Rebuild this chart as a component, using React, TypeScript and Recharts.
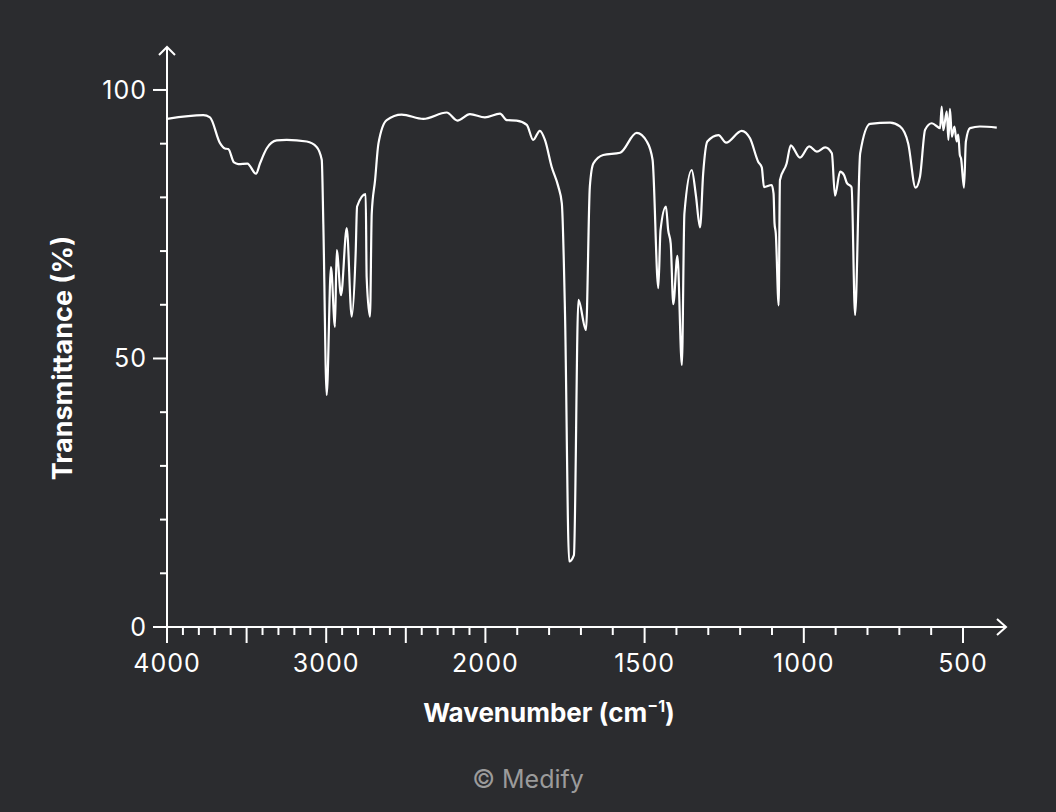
import React from 'react';
import { LineChart, Line, XAxis, YAxis } from 'recharts';

// wavenumber (cm-1), high to low
const wavenumbers = [
  4000, 3772, 3730, 3667, 3636, 3615, 3579, 3552, 3495, 3441, 3416, 3374, 3311, 3248, 3122,
  3060, 3028, 3018, 2997, 2970, 2945, 2934, 2907, 2871, 2840, 2815, 2806, 2752, 2746, 2725,
  2714, 2693, 2672, 2620, 2526, 2390, 2243, 2176, 2097, 2003, 1954, 1933, 1902, 1870, 1850,
  1829, 1813, 1792, 1771, 1760, 1750, 1737, 1722, 1708, 1684, 1672, 1661, 1630, 1577, 1525,
  1493, 1475, 1457, 1450, 1433, 1426, 1418, 1410, 1397, 1383, 1375, 1352, 1339, 1326, 1316,
  1303, 1268, 1244, 1195, 1169, 1143, 1132, 1125, 1101, 1095, 1092, 1088, 1079, 1075, 1054,
  1041, 1012, 983, 959, 933, 912, 902, 886, 874, 865, 850, 839, 823, 792, 729,
  698, 672, 649, 635, 619, 598, 572, 567, 562, 551, 546, 541, 535, 527, 520,
  515, 510, 506, 497, 491, 478, 447, 394,
];

// transmittance (%)
const transmittance = [
  94.6, 95.3, 94.9, 90.1, 89.1, 89.0, 86.5, 86.2, 86.3, 84.4, 86.3, 89.1, 90.6, 90.7, 90.4,
  89.4, 87.0, 75.0, 43.2, 67.0, 55.9, 70.2, 61.8, 74.3, 57.8, 69.6, 78.3, 80.6, 65.2, 57.8,
  77.0, 83.2, 90.0, 94.4, 95.4, 94.6, 95.8, 94.3, 95.5, 94.9, 95.6, 94.4, 94.3, 93.5, 90.7,
  92.4, 90.7, 85.7, 82.0, 78.9, 58.4, 12.2, 13.4, 60.9, 55.3, 82.0, 86.3, 87.9, 88.3, 92.0,
  90.4, 87.0, 63.1, 73.9, 78.3, 73.9, 71.4, 60.1, 69.1, 48.8, 77.0, 85.1, 80.4, 74.4, 84.5,
  90.4, 91.6, 90.2, 92.4, 91.0, 86.6, 85.6, 81.9, 82.3, 80.7, 75.2, 73.3, 59.9, 83.2, 86.3,
  89.7, 87.4, 89.5, 88.5, 89.3, 88.2, 80.3, 84.8, 84.2, 82.7, 81.9, 58.1, 88.2, 93.7, 93.9,
  93.2, 90.0, 81.8, 83.9, 92.6, 93.8, 92.9, 96.9, 92.5, 96.0, 90.7, 96.5, 91.3, 93.2, 90.4,
  91.7, 87.9, 87.2, 81.8, 90.4, 92.9, 93.2, 93.0,
];

const xTickValues = [
  4000, 3900, 3800, 3700, 3600, 3500, 3400, 3300, 3200, 3100, 3000, 2900, 2800, 2700, 2600,
  2500, 2400, 2300, 2200, 2100, 2000, 1900, 1800, 1700, 1600, 1500, 1400, 1300, 1200, 1100,
  1000, 900, 800, 700, 600, 500,
];
const xTickLabels = [4000, 3000, 2000, 1500, 1000, 500];
const yTickValues = [0, 10, 20, 30, 40, 50, 60, 70, 80, 90, 100];
const yTickLabels = [0, 50, 100];

// IR spectra use a doubled scale below 2000 cm-1
const toT = (w: number) => (w >= 2000 ? (4000 - w) / 2 : 1000 + (2000 - w));
const fromT = (t: number) => Math.round(t <= 1000 ? 4000 - 2 * t : 3000 - t);

const data = wavenumbers.map((w, i) => ({ t: toT(w), T: transmittance[i] }));

const FONT = 'Inter, "Liberation Sans", sans-serif';
const BG = '#2b2c2f';

const XTick = ({ x, y, payload }: any) => {
  const w = fromT(payload.value);
  const major = w % 500 === 0;
  return (
    <g>
      <line x1={x} x2={x} y1={y} y2={y + (major ? 16 : 8)} stroke="#fff" strokeWidth={2} />
      {xTickLabels.includes(w) && (
        <text x={x} y={y + 45} textAnchor="middle" fill="#fff" fontSize={25} letterSpacing={1} fontFamily={FONT}>
          {w}
        </text>
      )}
    </g>
  );
};

const YTick = ({ x, y, payload }: any) => {
  const v = payload.value;
  const major = yTickLabels.includes(v);
  return (
    <g>
      <line x1={x - (major ? 14 : 7)} x2={x} y1={y} y2={y} stroke="#fff" strokeWidth={2} />
      {major && (
        <text x={x - 20} y={y + 9} textAnchor="end" fill="#fff" fontSize={25} letterSpacing={1} fontFamily={FONT}>
          {v}
        </text>
      )}
    </g>
  );
};

const XLabel = ({ viewBox }: any) => (
  <text
    x={viewBox.x + 382}
    y={viewBox.y + 95}
    textAnchor="middle"
    fill="#fff"
    fontSize={26}
    fontWeight={700}
    fontFamily={FONT}
  >
    Wavenumber (cm<tspan dy={-10} fontSize={16}>−1</tspan>
    <tspan dy={10}>)</tspan>
  </text>
);

const YLabel = ({ viewBox }: any) => {
  const cx = 72;
  const cy = viewBox.y + 311;
  return (
    <text
      x={cx}
      y={cy}
      transform={`rotate(-90, ${cx}, ${cy})`}
      textAnchor="middle"
      fill="#fff"
      fontSize={27}
      fontWeight={700}
      fontFamily={FONT}
    >
      Transmittance (%)
    </text>
  );
};

export default function App() {
  return (
    <div style={{ position: 'absolute', left: 0, top: 0, width: 1056, height: 812, background: BG }}>
      <LineChart width={1056} height={812} data={data} margin={{ top: 47, right: 50, bottom: 155, left: 107 }}>
        <defs>
          <marker id="arrowX" markerUnits="userSpaceOnUse" markerWidth={1} markerHeight={1} refX={0} refY={0} orient="0" overflow="visible">
            <path d="M-9,-8 L0,0 L-9,8" fill="none" stroke="#fff" strokeWidth={2} />
          </marker>
          <marker id="arrowY" markerUnits="userSpaceOnUse" markerWidth={1} markerHeight={1} refX={0} refY={0} orient="0" overflow="visible">
            <path d="M-8,8 L0,0 L8,8" fill="none" stroke="#fff" strokeWidth={2} />
          </marker>
        </defs>
        <XAxis
          dataKey="t"
          type="number"
          domain={[0, 2635]}
          allowDataOverflow
          ticks={xTickValues.map(toT)}
          interval={0}
          height={30}
          tickSize={0}
          tickMargin={0}
          tickLine={false}
          tick={<XTick />}
          axisLine={{ stroke: '#fff', strokeWidth: 2, markerEnd: 'url(#arrowX)' }}
          label={<XLabel />}
        />
        <YAxis
          type="number"
          domain={[0, 108]}
          allowDataOverflow
          ticks={yTickValues}
          interval={0}
          width={60}
          tickSize={0}
          tickMargin={0}
          tickLine={false}
          tick={<YTick />}
          axisLine={{ stroke: '#fff', strokeWidth: 2, markerStart: 'url(#arrowY)' }}
          label={<YLabel />}
        />
        <Line
          dataKey="T"
          type="monotone"
          stroke="#fff"
          strokeWidth={2.2}
          dot={false}
          activeDot={false}
          isAnimationActive={false}
        />
      </LineChart>
      <div
        style={{
          position: 'absolute',
          left: 0,
          width: 1056,
          top: 764,
          textAlign: 'center',
          color: '#9b9b9b',
          fontSize: 25,
          fontFamily: FONT,
          lineHeight: '30px',
        }}
      >
        © Medify
      </div>
    </div>
  );
}
